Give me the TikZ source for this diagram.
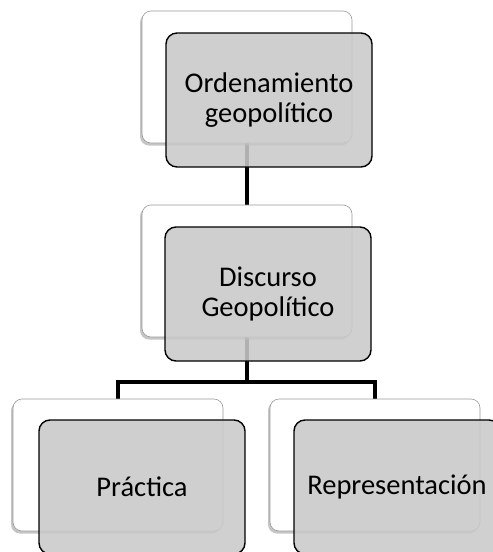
\documentclass[tikz,border=0pt]{standalone}
\usepackage{fontspec}
\setmainfont{Carlito}
\usetikzlibrary{shadows,backgrounds}

\tikzset{
  backbox/.style={draw=gray!80,line width=0.6pt,fill=white,rounded corners=9pt,
    minimum width=210pt,minimum height=132pt,inner sep=0pt,
    drop shadow={shadow xshift=-2pt,shadow yshift=-2.5pt,fill=black!45}},
  frontbox/.style={draw=black,line width=1.4pt,fill=gray!42,fill opacity=0.88,text opacity=1,
    rounded corners=11pt,minimum width=206pt,minimum height=134pt,inner sep=0pt,
    align=center,font=\fontsize{28.5}{30.5}\selectfont},
  link/.style={line width=4pt,black}
}

\begin{document}
\begin{tikzpicture}[x=1pt,y=-1pt]
  \useasboundingbox (0,0) rectangle (493,552);
  \clip (0,0) rectangle (493,552);

  \node[backbox] (ordenb) at (247,77) {};
  \node[backbox] (discb) at (247,271) {};
  \node[backbox] (practb) at (118,465) {};
  \node[backbox] (reprb) at (375,465) {};

  \node[frontbox] (orden) at (269,100) {Ordenamiento\\geopolítico};
  \node[frontbox] (disc) at (268,294) {Discurso\\Geopolítico};
  \node[frontbox] (pract) at (142,487) {Práctica};
  \node[frontbox] (repr) at (397,487) {Representación};

  \coordinate (fork) at (247,382);

  \begin{pgfonlayer}{background}
    \draw[link] (ordenb.south) -- (discb.north);
    \draw[link] (discb.south) -- (fork);
    \draw[link] (fork) -| (practb.north);
    \draw[link] (fork) -| (reprb.north);
  \end{pgfonlayer}
\end{tikzpicture}
\end{document}
